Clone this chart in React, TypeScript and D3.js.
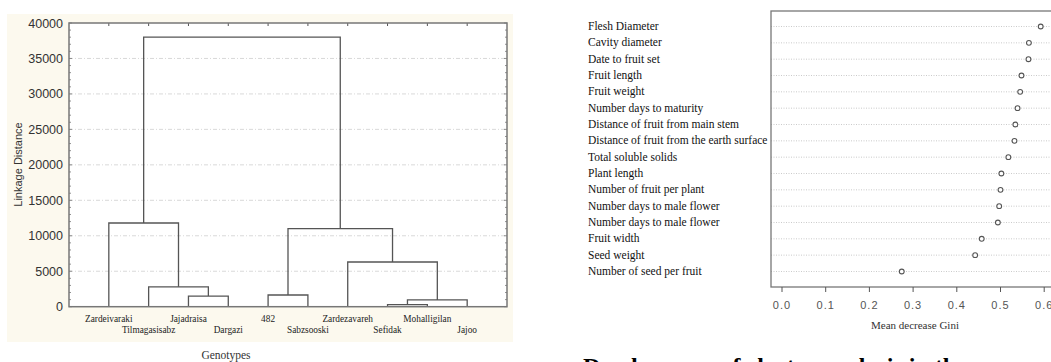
import React from "react";
import * as d3 from "d3";

const genotypes = [
  "Zardeivaraki", "Tilmagasisabz", "Jajadraisa", "Dargazi", "482",
  "Sabzsooski", "Zardezavareh", "Sefidak", "Mohalligilan", "Jajoo",
];
// linkage: cluster index n+k joins mergeLeft[k] and mergeRight[k] at mergeHeight[k]
const mergeLeft = [2, 7, 11, 4, 1, 6, 13, 0, 17];
const mergeRight = [3, 8, 9, 5, 10, 12, 15, 14, 16];
const mergeHeight = [1500, 300, 950, 1650, 2800, 6300, 11000, 11800, 38000];
const linkageTicks = [0, 5000, 10000, 15000, 20000, 25000, 30000, 35000, 40000];

const traits = [
  "Flesh Diameter", "Cavity diameter", "Date to fruit set", "Fruit length",
  "Fruit weight", "Number days to maturity", "Distance of fruit from main stem",
  "Distance of fruit from the earth surface", "Total soluble solids", "Plant length",
  "Number of fruit per plant", "Number days to male flower", "Number days to male flower ",
  "Fruit width", "Seed weight", "Number of seed per fruit",
];
const gini = [0.592, 0.565, 0.564, 0.548, 0.545, 0.539, 0.534, 0.532, 0.518, 0.502, 0.5, 0.497, 0.494, 0.457, 0.442, 0.274];
const giniTicks = [0, 0.1, 0.2, 0.3, 0.4, 0.5, 0.6];

export default function App() {
  // ---------- dendrogram ----------
  const L = 69, R = 507, T = 23, B = 306.7;
  const x = d3.scalePoint<string>().domain(genotypes).range([L, R]).padding(1);
  const y = d3.scaleLinear().domain([0, 40000]).range([B, T]);
  const n = genotypes.length;
  const nodeX: number[] = genotypes.map((g) => x(g) as number);
  const nodeH: number[] = genotypes.map(() => 0);
  const links: string[] = [];
  mergeLeft.forEach((a, k) => {
    const b = mergeRight[k];
    const h = mergeHeight[k];
    const p = d3.path();
    p.moveTo(nodeX[a], y(nodeH[a]));
    p.lineTo(nodeX[a], y(h));
    p.lineTo(nodeX[b], y(h));
    p.lineTo(nodeX[b], y(nodeH[b]));
    links.push(p.toString());
    nodeX[n + k] = (nodeX[a] + nodeX[b]) / 2;
    nodeH[n + k] = h;
  });
  const minor = d3.range(0, 40001, 1000);

  // ---------- dot chart ----------
  const fL = 771, fT = 11, fB = 287, fR = 1060;
  const gx = d3.scaleLinear().domain([0, 0.6]).range([782, 1044.2]);
  const gy = d3.scalePoint<string>().domain(traits).range([fT, fB]).padding(0.95);

  return (
    <div style={{ position: "absolute", left: 0, top: 0 }}>
      <svg width={1051} height={362} style={{ display: "block", background: "#fff" }}>
        {/* left panel */}
        <rect x={7} y={14} width={506} height={328} fill="#fcf9ee" />
        <rect x={L} y={T} width={R - L} height={B - T} fill="#fff" />
        {linkageTicks.filter((t) => t > 0 && t < 40000).map((t) => (
          <line key={"g" + t} x1={L} x2={R} y1={y(t)} y2={y(t)} stroke="#cfcfcf" strokeWidth={0.8} strokeDasharray="4,2,1,2" />
        ))}
        {minor.map((t) => (
          <g key={"m" + t}>
            <line x1={L} x2={L + (t % 5000 === 0 ? 3 : 2)} y1={y(t)} y2={y(t)} stroke="#777" strokeWidth={0.8} />
            <line x1={R} x2={R - (t % 5000 === 0 ? 3 : 2)} y1={y(t)} y2={y(t)} stroke="#777" strokeWidth={0.8} />
          </g>
        ))}
        {genotypes.map((g) => (
          <line key={"tt" + g} x1={x(g)} x2={x(g)} y1={T} y2={T + 3} stroke="#555" strokeWidth={1} />
        ))}
        {links.map((d, i) => (
          <path key={"l" + i} d={d} fill="none" stroke="#555" strokeWidth={1.3} />
        ))}
        <rect x={L} y={T} width={R - L} height={B - T} fill="none" stroke="#777" strokeWidth={1.5} />
        {linkageTicks.map((t) => (
          <text key={"yl" + t} x={63} y={y(t) + 4.5} textAnchor="end" fontFamily="Liberation Sans, Arial, sans-serif" fontSize={12.5} fill="#333">
            {t}
          </text>
        ))}
        <text transform="translate(22,164.5) rotate(-90)" textAnchor="middle" fontFamily="Liberation Sans, Arial, sans-serif" fontSize={11} fill="#333">
          Linkage Distance
        </text>
        {genotypes.map((g, i) => (
          <text key={"gl" + g} x={x(g)} y={i % 2 === 0 ? 322 : 333} textAnchor="middle" fontFamily="Liberation Serif, Times New Roman, serif" fontSize={9.3} fill="#222">
            {g}
          </text>
        ))}
        <text x={226} y={358.5} textAnchor="middle" fontFamily="Liberation Serif, Times New Roman, serif" fontSize={11.5} fill="#333">
          Genotypes
        </text>

        {/* right panel */}
        {traits.map((t) => (
          <line key={"rg" + t} x1={fL} x2={fR} y1={gy(t)} y2={gy(t)} stroke="#bdbdbd" strokeWidth={0.8} strokeDasharray="1,1.5" />
        ))}
        <rect x={fL} y={fT} width={fR - fL} height={fB - fT} fill="none" stroke="#777" strokeWidth={1.3} />
        {traits.map((t, i) => (
          <circle key={"c" + i} cx={gx(gini[i])} cy={gy(t)} r={2.4} fill="#fff" stroke="#555" strokeWidth={1.1} />
        ))}
        {traits.map((t, i) => (
          <text key={"tl" + i} x={588} y={(gy(t) as number) + 3.5} fontFamily="Liberation Serif, Times New Roman, serif" fontSize={11.5} fill="#111">
            {t}
          </text>
        ))}
        {giniTicks.map((v) => (
          <g key={"gt" + v}>
            <line x1={gx(v)} x2={gx(v)} y1={fB} y2={fB + 5} stroke="#555" strokeWidth={1} />
            <text x={gx(v)} y={309} textAnchor="middle" fontFamily="Liberation Sans, Arial, sans-serif" fontSize={11} letterSpacing={1} fill="#555">
              {v.toFixed(1)}
            </text>
          </g>
        ))}
        <text x={915} y={329} textAnchor="middle" fontFamily="Liberation Serif, Times New Roman, serif" fontSize={11} fill="#333">
          Mean decrease Gini
        </text>
        <text x={583} y={374} fontFamily="Liberation Serif, Times New Roman, serif" fontWeight="bold" fontSize={24} fill="#000">
          Dendrogram of cluster analysis in the
        </text>
      </svg>
    </div>
  );
}
